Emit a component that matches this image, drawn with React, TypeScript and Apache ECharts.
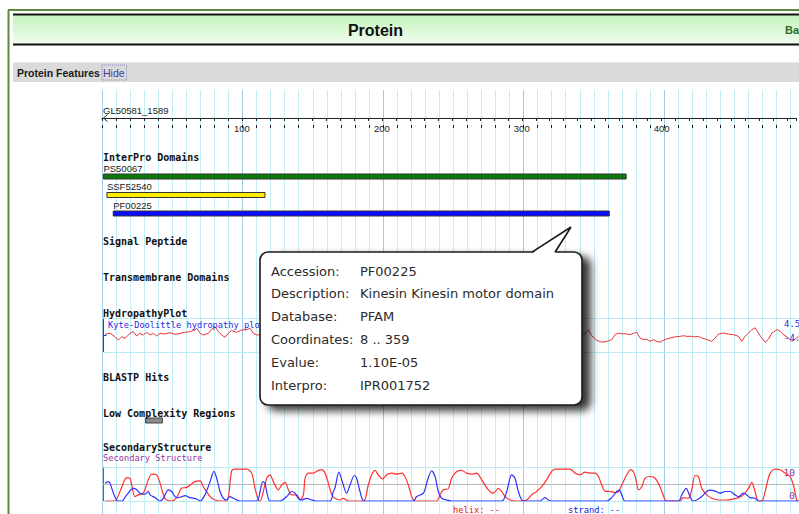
import React, { useEffect, useRef } from 'react';
import * as echarts from 'echarts';

// ---------- data ----------
const AXIS_MAX = 496;
const rulerLabels = [100, 200, 300, 400];
const sequenceName = 'GL50581_1589';

const domainNames = ['PS50067', 'SSF52540', 'PF00225'];
const domainStarts = [1, 3.5, 8];
const domainEnds = [373, 116, 361];
const domainColors = ['#0b7a0b', '#ffee00', '#0a0aff'];

const lowComplexityStarts = [31];
const lowComplexityEnds = [43];

const hydropathy: number[][] = [
  [2.1, 0.2], [5.7, 0.45], [9.3, -0.45], [11.6, -1.35], [14, -0.45], [16.4, -0.9], [19.9, 0.45], [22.3, 0.9],
  [24.7, -0.27], [27, 0.45], [29.4, 0], [31.8, 0.7], [34.2, 0], [36.5, 0.45], [38.9, -0.27], [41.3, 0.45],
  [44.8, 0.27], [48.4, 0.63], [51.9, 0.18], [55.5, 0.45], [59.1, 0.72], [62.6, 0.9], [66.2, 1.35], [67.4, 1.8],
  [69.8, 0.45], [72.1, 0], [75.7, 0.45], [78.1, 1.5], [80.4, 2.25], [82.8, 0.9], [85.2, 0], [87.5, -0.63],
  [89.9, 0.45], [92.3, 1.2], [95.8, 0.7], [99.4, 1.35], [103, 1.35], [105.3, 1.8], [107.7, 0.45], [110.1, 0],
  [120, 0.3], [135, -0.5], [150, 0.4], [165, -0.3], [180, 0.6], [195, -0.6], [210, 0.2], [225, -0.4],
  [240, 0.5], [255, -0.2], [270, 0.3], [285, -0.5], [300, 0.2], [315, -0.3], [330, 0.4],
  [340.7, 0.5], [343.1, 0.1], [346.2, 1.4], [348.5, -0.2], [352.1, -1.4], [355.7, -1.9], [359.2, -1.7],
  [362.8, -1.2], [365.1, 0.1], [367.5, 0.5], [369.9, 0.3], [372.3, 0.35], [375.8, 0.1], [378.7, 0.5],
  [380.6, 0.7], [382.9, -0.8], [385.3, -1.2], [387.7, -1.1], [390, -1.7], [392.4, -1.2], [394.8, -1.7],
  [397.2, -1.9], [400.7, -1.2], [404.3, -0.8], [407.8, -0.5], [411.4, -0.35], [413.8, -0.2], [416.1, -0.35],
  [419.7, -0.35], [422.1, -0.5], [424.4, -0.35], [426.8, -0.8], [430.4, -1.2], [433.9, -1.7], [436.3, -0.8],
  [438.7, 0.25], [442.2, 0.5], [445.8, 0.25], [449.3, 0.1], [452.9, -0.35], [455.3, -1.7], [457.6, -0.35],
  [460, 0.5], [462.4, 1.4], [464.8, 1.9], [467.1, 0.5], [469.5, -0.8], [471.9, -1.9], [474.3, -1.1],
  [476.6, 0.5], [480.2, 1.4], [482.6, 1], [484.9, 0.1], [488.5, -0.8], [490.9, -1.7], [493.2, -1.1], [495.6, -0.35],
];

const helix: number[][] = [
  [2, 0], [9, 0], [13, 3], [17.6, 6.9], [19.9, 6.7], [23.5, 1.3], [25.9, 1.8], [29.4, 2.3], [35.4, 7.9],
  [38.9, 7.7], [44.8, 0.8], [49.6, 0], [53.1, 1], [56.7, 3.8], [60.3, 4], [66.2, 5.7], [69.8, 5.9], [72.1, 4.2],
  [76.9, 1.3], [80.4, 0.3], [84, 0], [88.7, 0], [92.3, 8.9], [94.7, 9.4], [102.9, 9.4], [106.5, 8.2], [108.9, 3.7],
  [111.3, 0.3], [112.5, 0], [114.8, 2.8], [117.2, 6.7], [119.6, 7.7], [121.9, 5.7], [125.5, 3.3], [127.9, 4.7],
  [130.3, 5.5], [132.6, 3.3], [135, 1.8], [138.6, 1.8], [140.9, 0.3], [143.3, 1.8], [144.5, 6.7], [146.9, 8.2],
  [150.4, 8.2], [154, 9], [156.3, 9.2], [158.7, 8.2], [161.1, 5.2], [163.5, 1.8], [165.8, 0.8], [169.4, 0.3],
  [171.7, 0.8], [175.3, 0], [186, 0], [189.5, 4.7], [191.9, 7.7], [194.3, 9], [196.6, 7.7], [199.5, 6.5],
  [202.6, 7.7], [206.1, 8.2], [209.7, 7.9], [213.2, 8.2], [215.6, 7.2], [218, 4.7], [220.4, 1.3], [222.7, 0],
  [238.1, 0], [240.5, 1.8], [242.9, 3.3], [246.4, 3.6], [248.8, 6.7], [252.4, 8.7], [255.9, 9], [259.5, 8.2],
  [263.1, 7.9], [266.6, 8.2], [270.2, 6.2], [274.9, 3.3], [278.5, 2.3], [282, 3.7], [284.4, 2.8], [286.8, 1.3],
  [290.3, 0.3], [295.1, 0], [298.6, 0], [302.2, 0.3], [305.8, 1.8], [309.3, 2.8], [312.9, 4.2], [316.4, 6.2],
  [320, 8.7], [322.4, 9.4], [333.1, 9.4], [336.7, 8.2], [340.2, 7.7], [343.8, 8.5], [347.3, 8.2], [350.9, 8.2],
  [353.3, 7.2], [355.6, 4.7], [358, 2.9], [361.6, 2.8], [365.1, 2.5], [367.5, 2.8], [369.9, 4.7], [373.4, 7.7],
  [376.3, 9.2], [378.6, 8.2], [380.5, 5.2], [381.7, 3.3], [384.1, 4.2], [386.5, 6.7], [390, 7.2], [393.6, 6.7],
  [397.1, 4.2], [400.7, 0.3], [401.9, 0], [411.4, 0], [413.7, 1], [417.3, 0.8], [419.7, 3.3], [422.1, 7.5],
  [424.4, 7.2], [426.8, 3.7], [430.4, 1.8], [433.9, 0.8], [438.7, 0.3], [444.6, 0.3], [449.3, 0.6], [452.9, 1],
  [456.4, 1.8], [460, 3.7], [462.4, 5.5], [464.7, 2.8], [467.1, 0], [469.5, 0], [473, 4.7], [475.4, 8.2],
  [479, 9.4], [482.5, 9.2], [486.1, 8.2], [489.6, 7.2], [492, 4.7], [494.4, 0.3], [495.6, 0],
];

const strand: number[][] = [
  [2.1, 5.2], [4.5, 5.7], [5.7, 5.2], [8.1, 2.3], [10.4, 0.3], [11.6, 0], [14, 0], [17.6, 1.8], [22.3, 3.7],
  [24.7, 3.3], [27, 2.3], [30.6, 2], [33, 2.8], [34.2, 1.8], [37.7, 1], [41.3, 0], [43.7, 0.8], [47.2, 3.3],
  [49.6, 2.8], [52, 1.3], [54.3, 1], [56.7, 1.3], [59.1, 1.6], [62.6, 1], [67.4, 0.6], [69.8, 0], [73.3, 1.8],
  [76.9, 5.7], [79.7, 8.7], [81.6, 6.7], [84, 2.8], [86.4, 0.8], [88.7, 0.3], [91.1, 1.3], [93.5, 0.8], [98.2, 0],
  [110.1, 0], [112.5, 2.8], [114.4, 5.7], [116, 5.2], [117.7, 1.8], [119.6, 0], [126.7, 0], [131.4, 1.3],
  [135, 2.8], [137.4, 2.3], [139.7, 0.8], [142.1, 0.3], [145.7, 0.8], [149.2, 0.3], [152.8, 0], [162.3, 0],
  [164.6, 2.8], [165.8, 3.8], [168.6, 8.5], [171, 5.7], [174.1, 2.3], [176.5, 4.7], [179.6, 7.5], [181.2, 6.7],
  [183.6, 2.8], [186.7, 0], [221.5, 0], [223.9, 1.3], [228.7, 2.3], [231.7, 6.2], [234.6, 8.9], [237, 7.2],
  [239.3, 2.8], [241.7, 0.8], [245.3, 0.3], [248.8, 0], [284.4, 0], [288, 2.8], [291.5, 7.7], [293.9, 6.7],
  [296.3, 2.8], [299.8, 0], [311.7, 0], [315.2, 1], [317.6, 0.3], [320, 0], [359.2, 0], [362.7, 1], [366.3, 2.8],
  [368.2, 3.2], [369.9, 1.8], [372.2, 0], [410.2, 0], [412.6, 1.8], [415.7, 3.7], [418, 1.8], [420.4, 0],
  [423.2, 0.3], [426.8, 1.3], [430.4, 2.8], [432.7, 3.2], [436.3, 2.9], [439.8, 2.3], [443.4, 2.8], [447, 2.8],
  [450.5, 1.8], [452.9, 1.3], [456.4, 2.3], [458.8, 1.8], [461.2, 1], [464.7, 0.8], [467.1, 0], [495.6, 0],
];

const hydroRange = [-4.5, 4.5];
const hydroLabels = ['4.5', '-4.5'];
const ssRange = [0, 10];
const ssLabels = [0, 10];

const sectionNames = ['InterPro Domains', 'Signal Peptide', 'Transmembrane Domains', 'HydropathyPlot', 'BLASTP Hits', 'Low Complexity Regions', 'SecondaryStructure'];
const tooltipLabels = ['Accession:', 'Description:', 'Database:', 'Coordinates:', 'Evalue:', 'Interpro:'];
const tooltipValues = ['PF00225', 'Kinesin Kinesin motor domain', 'PFAM', '8 .. 359', '1.10E-05', 'IPR001752'];

// ---------- layout ----------
const sectionY = [157, 241, 277, 313, 377, 413, 447];
const MONO = '"DejaVu Sans Mono", monospace';
const SANS = '"Liberation Sans", Arial, sans-serif';
const DV = '"DejaVu Sans", sans-serif';

function txt(text: string, x: number, y: number, font: string, fill: string, z = 10, align = 'left') {
  return {
    type: 'text', z, silent: true,
    style: { text, x, y, font, fill, textAlign: align, textVerticalAlign: 'middle', align, verticalAlign: 'middle' },
  };
}

export default function App() {
  const ref = useRef<HTMLDivElement>(null);
  useEffect(() => {
    if (!ref.current) return;
    const chart = echarts.init(ref.current, null, { renderer: 'svg' });

    const hiddenX = (gridIndex: number) => ({ type: 'value', gridIndex, min: 0, max: AXIS_MAX, show: false });

    const domainData = domainNames.map((_, i) => [domainStarts[i], domainEnds[i], i]);
    const lcData = lowComplexityStarts.map((s, i) => [s, lowComplexityEnds[i], 0]);

    const graphic: any[] = [];
    // page frame
    graphic.push({ type: 'line', z: 5, shape: { x1: 8, y1: 10, x2: 800, y2: 10 }, style: { stroke: '#5d8b3d', lineWidth: 2 } });
    graphic.push({ type: 'line', z: 5, shape: { x1: 8.5, y1: 10, x2: 8.5, y2: 514 }, style: { stroke: '#5d8b3d', lineWidth: 2 } });
    // header
    graphic.push({
      type: 'rect', z: 5, shape: { x: 13, y: 14, width: 790, height: 31 },
      style: {
        fill: new echarts.graphic.LinearGradient(0, 0, 0, 1, [
          { offset: 0, color: '#c3f3bb' }, { offset: 1, color: '#f3fdf1' },
        ]),
      },
    });
    graphic.push({ type: 'line', z: 6, shape: { x1: 13, y1: 14.5, x2: 800, y2: 14.5 }, style: { stroke: '#111', lineWidth: 2 } });
    graphic.push({ type: 'line', z: 6, shape: { x1: 13, y1: 44.5, x2: 800, y2: 44.5 }, style: { stroke: '#111', lineWidth: 2 } });
    graphic.push(txt('Protein', 375.5, 30, `bold 16px ${SANS}`, '#111', 7, 'center'));
    graphic.push(txt('Ba', 785, 30, `bold 11px ${SANS}`, '#2c6b1e', 7));
    // features bar
    graphic.push({ type: 'rect', z: 5, shape: { x: 13, y: 62.5, width: 790, height: 19.5 }, style: { fill: '#dadada' } });
    graphic.push(txt('Protein Features', 17, 72.5, `bold 10.5px ${SANS}`, '#1a1a1a', 7));
    graphic.push(txt('Hide', 103, 72.5, `10.5px ${SANS}`, '#3b3ba8', 7));
    graphic.push({ type: 'rect', z: 7, shape: { x: 102, y: 65, width: 24.5, height: 15 }, style: { fill: 'none', stroke: '#8a8ac0', lineWidth: 1, lineDash: [1, 1] } });
    // sequence name and arrow
    graphic.push(txt(sequenceName, 103, 110, `9.5px ${SANS}`, '#222', 10));
    graphic.push({ type: 'polyline', z: 10, shape: { points: [[107.5, 114.5], [103.5, 118], [107.5, 121.5]] }, style: { stroke: '#222', lineWidth: 1, fill: 'none' } });
    // section titles
    sectionNames.forEach((n, i) => graphic.push(txt(n, 103, sectionY[i], `bold 10px ${MONO}`, '#111', 10)));
    graphic.push(txt('Kyte-Doolittle hydropathy plot', 108, 325, `8.7px ${MONO}`, '#2a2ae0', 10));
    graphic.push(txt(hydroLabels[0], 784, 324, `9px ${MONO}`, '#2a2ae0', 10));
    graphic.push(txt(hydroLabels[1], 784, 338, `9px ${MONO}`, '#2a2ae0', 10));
    graphic.push(txt('Secondary Structure', 103, 458, `8.7px ${MONO}`, '#a030a0', 10));
    graphic.push(txt('helix: --', 453, 510, `8.7px ${MONO}`, '#e02020', 10));
    graphic.push(txt('strand: --', 568, 510, `8.7px ${MONO}`, '#2020e0', 10));
    // callout
    graphic.push({
      type: 'rect', z: 100, shape: { x: 260, y: 252, width: 322, height: 153, r: 8 },
      style: { fill: '#fff', stroke: '#1a1a1a', lineWidth: 1.6, shadowBlur: 8, shadowOffsetX: 8, shadowOffsetY: 5, shadowColor: 'rgba(0,0,0,0.8)' },
    });
    graphic.push({ type: 'polygon', z: 101, shape: { points: [[532, 253.5], [571, 227], [555, 253.5]] }, style: { fill: '#fff' } });
    graphic.push({ type: 'polyline', z: 102, shape: { points: [[532, 252.2], [571, 227], [555, 252.2]] }, style: { stroke: '#1a1a1a', lineWidth: 1.6, fill: 'none' } });
    tooltipLabels.forEach((l, i) => {
      const y = 271 + i * 22.8;
      graphic.push(txt(l, 271, y, `13px ${DV}`, '#2b2b2b', 103));
      graphic.push(txt(tooltipValues[i], 360, y, `13px ${DV}`, '#2b2b2b', 103));
    });

    const option: any = {
      animation: false,
      backgroundColor: '#ffffff',
      textStyle: { fontFamily: SANS },
      grid: [
        { left: 102, right: 0, top: 90, bottom: 0 },          // 0 background lines
        { left: 102, right: 0, top: 100, height: 18 },         // 1 ruler (lower ticks + labels)
        { left: 102, right: 0, top: 118, height: 10 },         // 2 ruler (upper ticks)
        { left: 102, right: 0, top: 167.25, height: 55.5 },    // 3 domains
        { left: 102, right: 0, top: 415, height: 11 },         // 4 low complexity
        { left: 102, right: 0, top: 318, height: 34 },         // 5 hydropathy
        { left: 102, right: 0, top: 467, height: 34 },         // 6 secondary structure
      ],
      xAxis: [
        {
          type: 'value', gridIndex: 0, min: 0, max: AXIS_MAX, interval: 10, position: 'bottom',
          axisLine: { show: false }, axisTick: { show: false }, axisLabel: { show: false },
          splitLine: { show: true, lineStyle: { color: '#c2eef6', width: 1 } },
        },
        {
          type: 'value', gridIndex: 0, min: 0, max: AXIS_MAX, interval: 100, position: 'top',
          axisLine: { show: false }, axisTick: { show: false }, axisLabel: { show: false },
          splitLine: { show: true, lineStyle: { color: '#9dcbe8', width: 1 } },
        },
        {
          type: 'value', gridIndex: 1, min: 0, max: AXIS_MAX, interval: 10, position: 'bottom',
          axisLine: { show: true, lineStyle: { color: '#222', width: 1 } },
          axisTick: { show: true, length: 3, lineStyle: { color: '#222' } },
          splitLine: { show: false },
          axisLabel: {
            show: true, margin: 5, fontSize: 9.5, color: '#222', fontFamily: SANS,
            formatter: (v: number) => (rulerLabels.includes(v) ? String(v) : ''),
          },
        },
        {
          type: 'value', gridIndex: 2, min: 0, max: AXIS_MAX, interval: 10, position: 'top',
          axisLine: { show: false },
          axisTick: { show: true, length: 3, lineStyle: { color: '#222' } },
          axisLabel: { show: false }, splitLine: { show: false },
        },
        hiddenX(3), hiddenX(4), hiddenX(5), hiddenX(6),
      ],
      yAxis: [
        { type: 'value', gridIndex: 0, show: false },
        { type: 'value', gridIndex: 1, show: false },
        { type: 'value', gridIndex: 2, show: false },
        { type: 'category', gridIndex: 3, data: domainNames, inverse: true, show: false },
        { type: 'category', gridIndex: 4, data: ['LCR'], show: false },
        {
          type: 'value', gridIndex: 5, min: hydroRange[0], max: hydroRange[1], interval: 4.5, position: 'left', offset: -1.5,
          axisLine: { show: true, lineStyle: { color: '#3030e0', width: 1 } },
          axisTick: { show: true, inside: true, length: 3, lineStyle: { color: '#3030e0' } },
          axisLabel: { show: false }, splitLine: { show: false },
        },
        {
          type: 'value', gridIndex: 6, min: ssRange[0], max: ssRange[1], interval: 5, position: 'left', offset: -1.5,
          axisLine: { show: true, lineStyle: { color: '#a040a0', width: 1 } },
          axisTick: { show: true, inside: true, length: 3, lineStyle: { color: '#a040a0' } },
          axisLabel: { show: false }, splitLine: { show: false },
        },
        {
          type: 'value', gridIndex: 6, min: ssRange[0], max: ssRange[1], interval: 10, position: 'right',
          axisLine: { show: false }, axisTick: { show: false }, splitLine: { show: false },
          axisLabel: {
            show: true, inside: true, margin: 4,
            formatter: (v: number) => (!ssLabels.includes(v) ? '' : v === ssRange[1] ? `{t|${v}}` : `{b|${v}}`),
            rich: {
              t: { color: '#993399', fontFamily: MONO, fontSize: 9.5, padding: [10, 0, 0, 0] },
              b: { color: '#993399', fontFamily: MONO, fontSize: 9.5, padding: [0, 0, 12, 0] },
            },
          },
        },
      ],
      series: [
        {
          type: 'custom', xAxisIndex: 4, yAxisIndex: 3, data: domainData, z: 5,
          renderItem: (params: any, api: any) => {
            const i = api.value(2);
            const s = api.coord([api.value(0), i]);
            const e = api.coord([api.value(1), i]);
            return {
              type: 'group',
              children: [
                { type: 'rect', shape: { x: s[0], y: s[1] - 2.5, width: e[0] - s[0], height: 5 }, style: { fill: domainColors[i], stroke: '#333', lineWidth: 1 } },
                { type: 'text', style: { text: domainNames[i], x: s[0], y: s[1] - 8.5, fill: '#222', font: `9.5px ${SANS}`, textAlign: 'left', textVerticalAlign: 'middle', align: 'left', verticalAlign: 'middle' } },
              ],
            };
          },
        },
        {
          type: 'custom', xAxisIndex: 5, yAxisIndex: 4, data: lcData, z: 5,
          renderItem: (params: any, api: any) => {
            const s = api.coord([api.value(0), api.value(2)]);
            const e = api.coord([api.value(1), api.value(2)]);
            return { type: 'rect', shape: { x: s[0], y: s[1] - 2.5, width: e[0] - s[0], height: 5 }, style: { fill: '#8a8a8a', stroke: '#444', lineWidth: 1 } };
          },
        },
        {
          type: 'line', xAxisIndex: 6, yAxisIndex: 5, data: hydropathy, symbol: 'none', z: 5,
          lineStyle: { color: '#ec3434', width: 1 },
          markLine: {
            silent: true, symbol: 'none', label: { show: false },
            lineStyle: { color: '#b8ecf2', type: 'solid', width: 1 },
            data: [{ yAxis: hydroRange[1] }, { yAxis: hydroRange[0] }],
          },
        },
        {
          type: 'line', xAxisIndex: 7, yAxisIndex: 6, data: helix, symbol: 'none', smooth: 0.3, z: 5,
          lineStyle: { color: '#ff3030', width: 1.2 },
          markLine: {
            silent: true, symbol: 'none', label: { show: false },
            data: [
              { yAxis: ssRange[1], lineStyle: { color: '#b8ecf2', type: 'solid', width: 1 } },
              { yAxis: 5, lineStyle: { color: '#b8b8b8', type: 'solid', width: 1 } },
              { yAxis: ssRange[0], lineStyle: { color: '#b8ecf2', type: 'solid', width: 1 } },
            ],
          },
        },
        {
          type: 'line', xAxisIndex: 7, yAxisIndex: 6, data: strand, symbol: 'none', smooth: 0.3, z: 6,
          lineStyle: { color: '#3030ff', width: 1.2 },
        },
      ],
      graphic: { elements: graphic },
    };
    chart.setOption(option);
    return () => chart.dispose();
  }, []);
  return <div ref={ref} style={{ position: 'absolute', left: 0, top: 0, width: 799, height: 514, background: '#fff' }} />;
}
